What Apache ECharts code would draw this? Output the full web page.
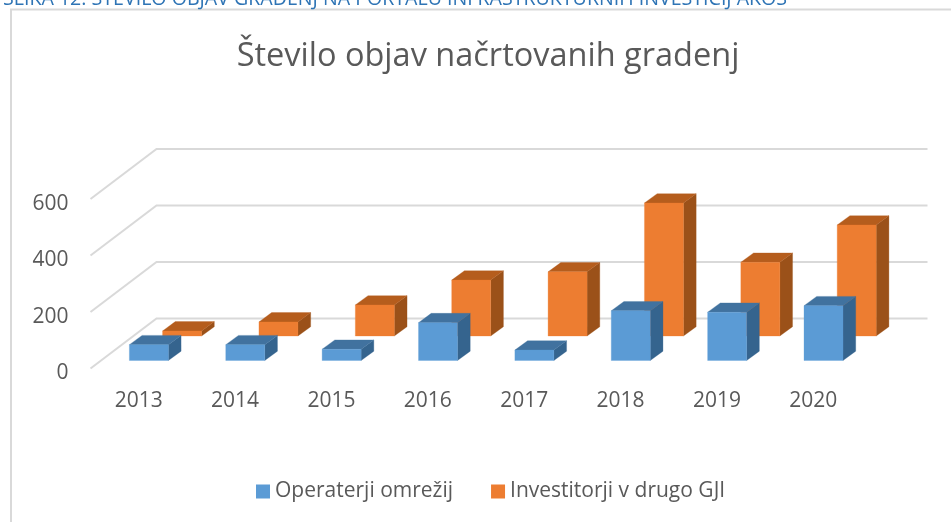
<!DOCTYPE html>
<html><head><meta charset="utf-8">
<style>html,body{margin:0;padding:0;background:#fff}#c{width:951px;height:522px}</style>
<script src="https://cdn.jsdelivr.net/npm/echarts@6/dist/echarts.min.js"></script>
</head><body><div id="c"></div>
<script>
const years = ['2013','2014','2015','2016','2017','2018','2019','2020'];
const operaterji = [56, 56, 40, 134, 37, 176, 171, 194];
const investitorji = [18, 50, 110, 198, 227, 471, 261, 393];
const yTicks = [0, 200, 400, 600];
const titleText = 'Število objav načrtovanih gradenj';
const captionText = 'SLIKA 12: ŠTEVILO OBJAV GRADENJ NA PORTALU INFRASTRUKTURNIH INVESTICIJ AKOS';
const seriesNames = ['Operaterji omrežij', 'Investitorji v drugo GJI'];

const FONT = '"Open Sans","Noto Sans",sans-serif';
const WALL = [66, -50];      // floor depth of the 3D plot
const DEPTH = [12.7, -9.3];  // depth of a single box
const BAR = 39;

function box(front, top, side, off) {
  return function (params, api) {
    const i = api.value(0), v = api.value(1);
    const p0 = api.coord([i, 0]), p1 = api.coord([i, v]);
    const x0 = p0[0] + off[0] - BAR / 2, x1 = x0 + BAR;
    const yb = p0[1] + off[1], yt = p1[1] + off[1];
    const dx = DEPTH[0], dy = DEPTH[1];
    const poly = (pts, c) => ({
      type: 'polygon', shape: { points: pts },
      style: { fill: c, stroke: c, lineWidth: 0.3 }
    });
    return {
      type: 'group', children: [
        poly([[x1, yb], [x1 + dx, yb + dy], [x1 + dx, yt + dy], [x1, yt]], side),
        poly([[x0, yt], [x1, yt], [x1 + dx, yt + dy], [x0 + dx, yt + dy]], top),
        poly([[x0, yb], [x1, yb], [x1, yt], [x0, yt]], front)
      ]
    };
  };
}
function wall(params, api) {
  const v = api.value(0);
  const band = api.size([1, 0])[0];
  const pL = api.coord([0, v]), pR = api.coord([years.length - 1, v]);
  const xL = pL[0] - band / 2, xR = pR[0] + band / 2, y = pL[1];
  return {
    type: 'polyline',
    shape: { points: [[xL, y], [xL + WALL[0], y + WALL[1]], [xR + WALL[0], y + WALL[1]]] },
    style: { fill: null, stroke: '#d9d9d9', lineWidth: 2 }
  };
}

const option = {
  animation: false,
  backgroundColor: '#fff',
  title: [
    { text: titleText, left: 483, top: 35, textAlign: 'center',
      textStyle: { fontFamily: FONT, fontSize: 32.5, fontWeight: 'normal', color: '#595959' } },
    { text: captionText, left: -2, top: -15.5,
      textStyle: { fontFamily: FONT, fontSize: 19.6, fontWeight: 'normal', color: '#2E74B5' } }
  ],
  legend: {
    data: seriesNames, left: 251, top: 476, icon: 'rect', itemWidth: 14, itemHeight: 14,
    itemGap: 38,
    textStyle: { fontFamily: FONT, fontSize: 21, color: '#595959' }
  },
  grid: { left: 90.5, top: 199, width: 771, height: 169.5 },
  xAxis: {
    type: 'category', data: years,
    axisLine: { show: false }, axisTick: { show: false },
    axisLabel: { fontFamily: FONT, fontSize: 21, color: '#595959', margin: 22 }
  },
  yAxis: {
    type: 'value', min: 0, max: 600, interval: 200,
    splitLine: { show: false }, axisLine: { show: false }, axisTick: { show: false },
    axisLabel: { fontFamily: FONT, fontSize: 21, color: '#595959', margin: 22,
      verticalAlign: 'top', lineHeight: 10 }
  },
  series: [
    { type: 'custom', name: 'wall', silent: true, z: 1,
      renderItem: wall, data: yTicks.map(v => [v]), encode: { y: 0 } },
    { type: 'custom', name: seriesNames[1], z: 2,
      itemStyle: { color: '#ED7D31' },
      renderItem: box('#ED7D31', '#B55D1D', '#9B5119', [43.4, -32.5]),
      data: investitorji.map((v, i) => [i, v]), encode: { x: 0, y: 1 } },
    { type: 'custom', name: seriesNames[0], z: 3,
      itemStyle: { color: '#5B9BD5' },
      renderItem: box('#5B9BD5', '#41729F', '#35648E', [10.2, -8]),
      data: operaterji.map((v, i) => [i, v]), encode: { x: 0, y: 1 } }
  ],
  graphic: [{
    type: 'polyline', silent: true, z: 0,
    shape: { points: [[11, 522], [11, 9.5], [951, 9.5]] },
    style: { fill: null, stroke: '#d9d9d9', lineWidth: 2 }
  }]
};
echarts.init(document.getElementById('c'), null, { renderer: 'canvas' }).setOption(option);
</script></body></html>
